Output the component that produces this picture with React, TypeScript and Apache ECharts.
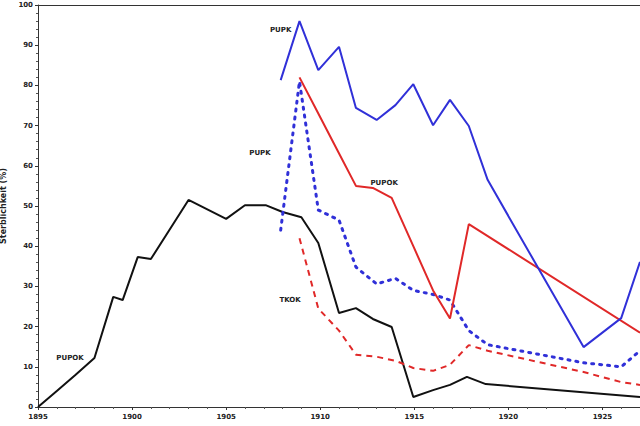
import React, { useEffect, useRef } from "react";
import * as echarts from "echarts";

const xTicks = { min: 1895, max: 1927, interval: 5 };
const yTicks = { min: 0, max: 100, interval: 10 };
const yTitle = "Sterblichkeit (%)";

const blackData: [number, number][] = [
  [1895, 0], [1896, 4], [1897, 8], [1898, 12.2], [1899, 27.4], [1899.5, 26.6],
  [1900.3, 37.3], [1901, 36.8], [1903, 51.5], [1905, 46.8], [1906, 50.2],
  [1907.1, 50.2], [1908, 48.5], [1909, 47.2], [1909.9, 40.8], [1911, 23.4],
  [1911.9, 24.6], [1912.8, 21.9], [1913.8, 19.9], [1914.95, 2.5], [1916, 4.2],
  [1916.9, 5.5], [1917.8, 7.5], [1918.8, 5.7], [1927, 2.5],
];
const blueSolidData: [number, number][] = [
  [1907.9, 81.3], [1908.9, 96], [1909.9, 83.8], [1911, 89.6], [1911.9, 74.4],
  [1913, 71.4], [1914, 75.1], [1914.95, 80.3], [1916, 70.1], [1916.9, 76.4],
  [1917.9, 69.9], [1918.9, 56.5], [1924, 14.9], [1926, 22.1], [1927, 36.1],
];
const blueDotData: [number, number][] = [
  [1907.9, 44], [1908.9, 81], [1909.9, 49], [1911, 46.5], [1911.9, 34.8],
  [1913, 30.6], [1914, 32], [1914.95, 29], [1916, 28], [1916.9, 26.6],
  [1917.9, 19], [1918.9, 15.5], [1924, 11], [1926, 10], [1927, 14],
];
const redSolidData: [number, number][] = [
  [1908.9, 82], [1909.9, 73], [1910.9, 64], [1911.9, 55], [1912.8, 54.5],
  [1913.8, 52], [1914.95, 40], [1916, 29], [1916.9, 22], [1917.9, 45.5],
  [1927, 18.5],
];
const redDashData: [number, number][] = [
  [1908.9, 42], [1909.9, 24.5], [1911, 19], [1911.9, 13], [1913, 12.5],
  [1914, 11.5], [1914.95, 9.7], [1916, 9], [1916.9, 10.5], [1917.9, 15.4],
  [1918.9, 14], [1924, 8.7], [1926, 6.2], [1927, 5.5],
];

const labelTexts = ["PUPK", "PUPK", "PUPOK", "TKOK", "PUPOK"];
const labelCoords: [number, number][] = [
  [1907.9, 93.8], [1906.8, 63.2], [1913.4, 55.7], [1908.4, 26.6], [1896.7, 12.2],
];

const FONT = "DejaVu Sans";
const BLUE = "#3030d8";
const RED = "#e02828";
const BLACK = "#111111";

function tag(i: number) {
  return {
    symbol: "circle",
    symbolSize: 0,
    silent: true,
    data: [
      {
        coord: labelCoords[i],
        label: {
          show: true,
          position: "inside",
          formatter: labelTexts[i],
          fontSize: 7,
          fontWeight: "bold",
          fontFamily: FONT,
          color: "#222",
        },
      },
    ],
  };
}

export default function App() {
  const ref = useRef<HTMLDivElement>(null);
  useEffect(() => {
    if (!ref.current) return;
    const chart = echarts.init(ref.current, undefined, { renderer: "svg" });
    const axisText = { fontSize: 7, fontWeight: "bold", fontFamily: FONT, color: "#222" };
    chart.setOption({
      animation: false,
      backgroundColor: "#ffffff",
      grid: { left: 38, right: 0, top: 5, bottom: 19, containLabel: false, outerBoundsMode: "none" },
      xAxis: [
        {
          type: "value",
          min: xTicks.min,
          max: xTicks.max,
          interval: xTicks.interval,
          axisLine: { show: true, onZero: false, lineStyle: { color: "#333", width: 1 } },
          axisTick: { show: true, length: 3, lineStyle: { color: "#333" } },
          minorTick: { show: true, splitNumber: 5, length: 2, lineStyle: { color: "#555" } },
          splitLine: { show: false },
          axisLabel: { ...axisText, margin: 6, showMaxLabel: false, formatter: (v: number) => String(v) },
        },
        {
          type: "value",
          position: "top",
          min: xTicks.min,
          max: xTicks.max,
          axisLine: { show: true, onZero: false, lineStyle: { color: "#333", width: 1 } },
          axisTick: { show: false },
          axisLabel: { show: false },
          splitLine: { show: false },
        },
      ],
      yAxis: {
        type: "value",
        min: yTicks.min,
        max: yTicks.max,
        interval: yTicks.interval,
        name: yTitle,
        nameLocation: "middle",
        nameGap: 27,
        nameTextStyle: { fontSize: 8, fontWeight: "bold", fontFamily: FONT, color: "#222" },
        axisLine: { show: true, lineStyle: { color: "#333", width: 1 } },
        axisTick: { show: true, length: 3, lineStyle: { color: "#333" } },
        minorTick: { show: true, splitNumber: 5, length: 2, lineStyle: { color: "#555" } },
        splitLine: { show: false },
        axisLabel: { ...axisText, margin: 5 },
      },
      series: [
        {
          type: "line",
          data: blackData,
          symbol: "none",
          lineStyle: { color: BLACK, width: 2 },
          markPoint: tag(4),
        },
        {
          type: "line",
          data: redDashData,
          symbol: "none",
          lineStyle: { color: RED, width: 2, type: [6, 5] },
          markPoint: tag(3),
        },
        {
          type: "line",
          data: blueDotData,
          symbol: "none",
          lineStyle: { color: BLUE, width: 3, type: [2, 6], cap: "round" },
          markPoint: tag(1),
        },
        {
          type: "line",
          data: redSolidData,
          symbol: "none",
          lineStyle: { color: RED, width: 2 },
          markPoint: tag(2),
        },
        {
          type: "line",
          data: blueSolidData,
          symbol: "none",
          lineStyle: { color: BLUE, width: 2 },
          markPoint: tag(0),
        },
      ],
    });
    return () => chart.dispose();
  }, []);
  return (
    <div
      ref={ref}
      style={{ position: "fixed", left: 0, top: 0, width: 640, height: 426, background: "#fff" }}
    />
  );
}
